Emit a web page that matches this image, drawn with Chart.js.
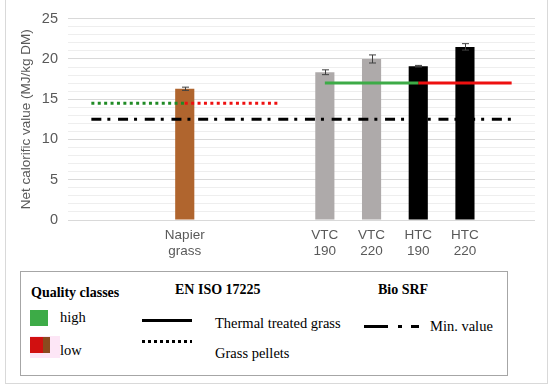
<!DOCTYPE html>
<html>
<head>
<meta charset="utf-8">
<script src="https://cdn.jsdelivr.net/npm/chart.js@4.4.1/dist/chart.umd.min.js"></script>
<style>
  body { margin: 0; width: 550px; height: 387px; background: #fff; position: relative; overflow: hidden; font-family: "Liberation Sans", Arial, sans-serif; }
  #frame { position: absolute; left: 5px; top: -2px; width: 541px; height: 384px; border: 1px solid #d9d9d9; }
  #wrap { position: absolute; left: 6px; top: 0; width: 540px; height: 262px; }
  #legendBox { position: absolute; left: 20px; top: 271px; width: 486px; height: 103px; border: 1px solid #a6a6a6; }
  .t { position: absolute; white-space: nowrap; line-height: 16px; font-family: "Liberation Serif", "Times New Roman", serif; font-size: 14.5px; color: #000; }
  .b { font-weight: bold; font-size: 14px; }
  .sw { position: absolute; }
</style>
</head>
<body>
<div id="frame"></div>
<div id="wrap"><canvas id="gcvChart"></canvas></div>

<div id="legendBox"></div>
<div class="t b" style="left:31px;top:285px">Quality classes</div>
<div class="t b" style="left:175px;top:282px">EN ISO 17225</div>
<div class="t b" style="left:378px;top:282px">Bio SRF</div>

<div class="sw" style="left:30px;top:310px;width:18px;height:16px;background:#3dab47"></div>
<div class="t" style="left:60px;top:309px">high</div>
<div class="sw" style="left:30px;top:336px;width:30px;height:22px;background:#fde6f6"></div>
<div class="sw" style="left:30px;top:337px;width:13px;height:16px;background:#d11010"></div>
<div class="sw" style="left:43px;top:337px;width:7px;height:16px;background:#8a4a1e"></div>
<div class="t" style="left:60px;top:342px">low</div>

<div class="sw" style="left:142px;top:319px;width:50px;height:3px;background:#000"></div>
<div class="t" style="left:215px;top:315px">Thermal treated grass</div>
<div class="sw" style="left:142px;top:340px;width:50px;height:3px;background:repeating-linear-gradient(to right,#000 0 3px,transparent 3px 6px)"></div>
<div class="t" style="left:215px;top:345px">Grass pellets</div>

<div class="sw" style="left:364px;top:325px;width:24px;height:3px;background:#000"></div>
<div class="sw" style="left:398px;top:325px;width:4px;height:3px;background:#000"></div>
<div class="sw" style="left:411px;top:325px;width:8px;height:3px;background:#000"></div>
<div class="t" style="left:430px;top:318px">Min. value</div>

<script>
// categories incl. the empty slots that space the bars out
const categories = [[''], [''], ['Napier', 'grass'], [''], [''], ['VTC', '190'], ['VTC', '220'], ['HTC', '190'], ['HTC', '220'], ['']];
const barValues = [null, null, 16.3, null, null, 18.35, 20.0, 19.1, 21.5, null];
const barErrors = [null, null, 0.2, null, null, 0.3, 0.5, 0.1, 0.4, null];
const barColors = ['#b0652e', '#b0652e', '#b0652e', '#aeaaaa', '#aeaaaa', '#aeaaaa', '#aeaaaa', '#000000', '#000000', '#000000'];

// EN ISO 17225 limits
const pelletsHigh = [14.5, 14.5, 14.5, null, null, null, null, null, null, null];
const pelletsLow = [null, null, 14.5, 14.5, 14.5, null, null, null, null, null];
const thermalHigh = [null, null, null, null, null, 17, 17, 17, null, null];
const thermalLow = [null, null, null, null, null, null, null, 17, 17, 17];
// Bio SRF minimum
const srfMin = [12.5, 12.5, 12.5, 12.5, 12.5, 12.5, 12.5, 12.5, 12.5, 12.5];

const AXIS_GREY = '#595959';
const AXIS_FONT = '"Liberation Sans", Arial, sans-serif';

function limitLine(label, data, color, dash) {
  return {
    type: 'line',
    label,
    data,
    borderColor: color,
    borderWidth: 3,
    borderDash: dash || [],
    pointRadius: 0,
    tension: 0,
    fill: false,
    spanGaps: false,
    order: 1,
  };
}

const errorBars = {
  id: 'errorBars',
  afterDatasetsDraw(chart) {
    const { ctx, scales: { x, y } } = chart;
    ctx.save();
    ctx.strokeStyle = '#404040';
    ctx.lineWidth = 1;
    barValues.forEach((v, i) => {
      if (v == null || barErrors[i] == null) return;
      const cx = Math.round(x.getPixelForValue(i)) + 0.5;
      const top = y.getPixelForValue(v + barErrors[i]);
      const bot = y.getPixelForValue(v - barErrors[i]);
      ctx.beginPath();
      ctx.moveTo(cx, top); ctx.lineTo(cx, bot);
      ctx.moveTo(cx - 3.5, top); ctx.lineTo(cx + 3.5, top);
      ctx.moveTo(cx - 3.5, bot); ctx.lineTo(cx + 3.5, bot);
      ctx.stroke();
    });
    ctx.restore();
  },
};

new Chart(document.getElementById('gcvChart').getContext('2d'), {
  data: {
    labels: categories,
    datasets: [
      {
        type: 'bar',
        label: 'Net calorific value',
        data: barValues,
        backgroundColor: barColors,
        barPercentage: 0.41,
        categoryPercentage: 1,
        order: 2,
      },
      limitLine('Grass pellets (high)', pelletsHigh, '#1f8a24', [3, 3.4]),
      limitLine('Grass pellets (low)', pelletsLow, '#ee1010', [3, 3.4]),
      limitLine('Thermal treated grass (high)', thermalHigh, '#3dab47'),
      limitLine('Thermal treated grass (low)', thermalLow, '#ee1010'),
      limitLine('Min. value', srfMin, '#000000', [10, 6, 3, 7.7]),
    ],
  },
  options: {
    responsive: true,
    maintainAspectRatio: false,
    animation: false,
    layout: { padding: { left: 8, right: 11, top: 16, bottom: 2 } },
    plugins: { legend: { display: false }, tooltip: { enabled: false } },
    scales: {
      x: {
        grid: { display: false, drawTicks: false },
        border: { display: false },
        ticks: {
          color: AXIS_GREY, autoSkip: false, maxRotation: 0, padding: 7,
          font: { family: AXIS_FONT, size: 13.5, lineHeight: 1.18 },
        },
        afterFit: (s) => { s.height = 40; },
      },
      y: {
        min: 0,
        max: 25,
        border: { display: false },
        grid: {
          drawTicks: false,
          color: (c) => (c.tick && c.tick.value % 5 === 0 ? '#d9d9d9' : '#eeeeee'),
        },
        ticks: {
          stepSize: 1,
          autoSkip: false,
          padding: 10,
          color: AXIS_GREY,
          font: { family: AXIS_FONT, size: 14.5 },
          callback: (v) => (v % 5 === 0 ? v : ''),
        },
        title: {
          display: true,
          text: 'Net calorific value (MJ/kg DM)',
          color: AXIS_GREY,
          font: { family: AXIS_FONT, size: 13.5 },
          padding: { top: 4, bottom: 0 },
        },
        afterFit: (s) => { s.width = 54; },
      },
    },
  },
  plugins: [errorBars],
});
</script>
</body>
</html>
